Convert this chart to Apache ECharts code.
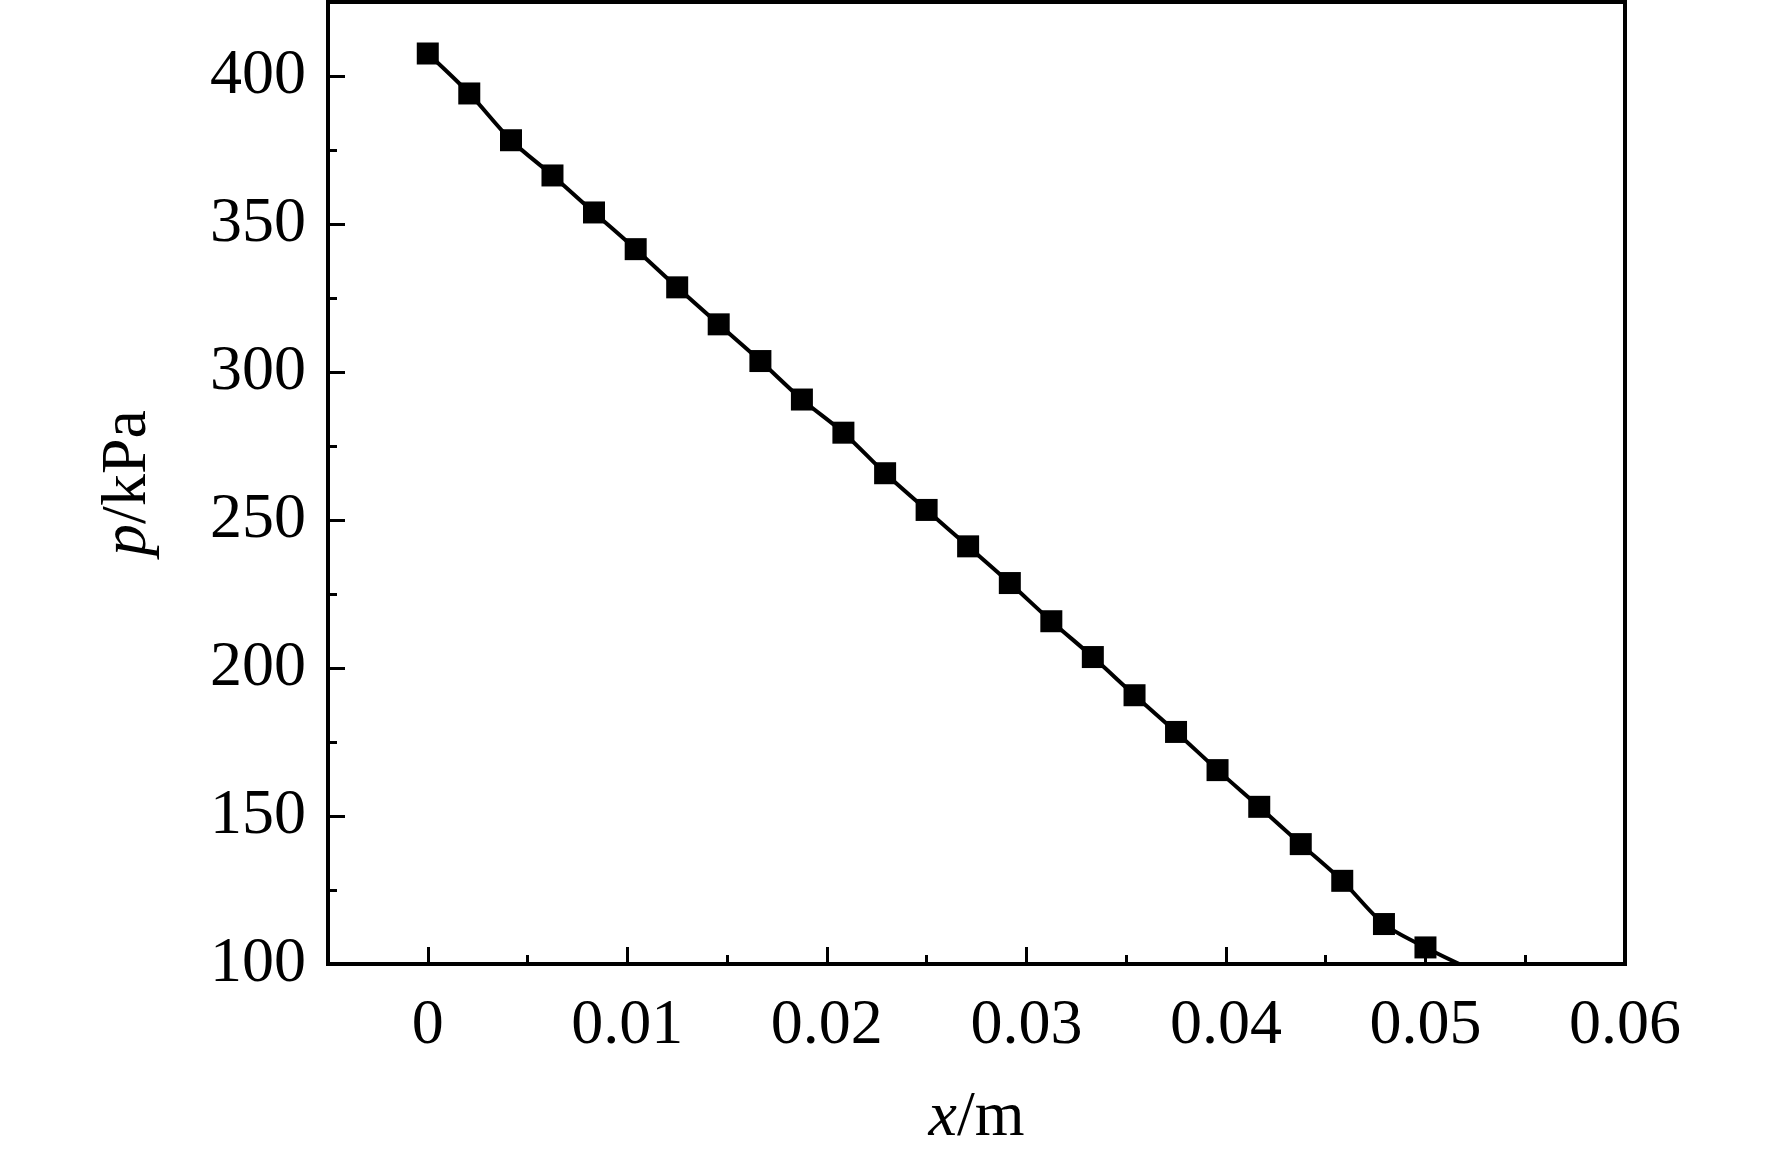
<!DOCTYPE html>
<html>
<head>
<meta charset="utf-8">
<title>p - x</title>
<script src="https://cdn.jsdelivr.net/npm/echarts@6/dist/echarts.min.js"></script>
<style>
  html, body { margin: 0; padding: 0; background: #fff; }
  #main { width: 1772px; height: 1155px; }
</style>
</head>
<body>
<div id="main"></div>
<script>
// 数据: 位置 x/m 与 压力 p/kPa
const xValues = [0, 0.00208, 0.00417, 0.00625, 0.00833, 0.01042, 0.0125, 0.01458, 0.01667,
  0.01875, 0.02083, 0.02292, 0.025, 0.02708, 0.02917, 0.03125, 0.03333, 0.03542, 0.0375,
  0.03958, 0.04167, 0.04375, 0.04583, 0.04792, 0.05]
const pValues = [407.6, 394.1, 378.3, 366.4, 353.9, 341.5, 328.6, 316.1, 303.7, 290.7,
  279.5, 265.8, 253.4, 241.1, 228.7, 215.8, 203.7, 190.8, 178.4, 165.5, 153.1, 140.5,
  128.1, 113.5, 105.6]
// 曲线末端 (没有标记点)
const tailX = [0.0517]
const tailY = [100]
// 刻度
const xMajorTicks = [0, 0.01, 0.02, 0.03, 0.04, 0.05, 0.06]
const xMinorTicks = [0.005, 0.015, 0.025, 0.035, 0.045, 0.055]
const yMajorTicks = [100, 150, 200, 250, 300, 350, 400]
const yMinorTicks = [125, 175, 225, 275, 325, 375]

const font = 'Liberation Serif'
const black = '#000'

const myChart = echarts.init(document.querySelector('#main'))

const points = xValues.map((x, i) => [x, pValues[i]])
const linePoints = points.concat(tailX.map((x, i) => [x, tailY[i]]))

const option = {
  animation: false,
  backgroundColor: '#fff',
  grid: {
    left: 328,
    right: 147,
    top: 2,
    bottom: 191,
    show: true,
    borderColor: black,
    borderWidth: 4
  },
  xAxis: [
    {
      type: 'value',
      min: -0.005,
      max: 0.06,
      position: 'bottom',
      name: '{i|x}/m',
      nameLocation: 'middle',
      nameGap: 122,
      nameTextStyle: {
        fontFamily: font,
        fontSize: 64,
        color: black,
        rich: {
          i: { fontFamily: font, fontSize: 64, fontStyle: 'italic', color: black }
        }
      },
      axisLine: { show: true, onZero: false, lineStyle: { color: black, width: 4 } },
      axisTick: {
        show: true,
        inside: true,
        length: 17,
        lineStyle: { color: black, width: 3 },
        customValues: xMajorTicks
      },
      axisLabel: {
        show: true,
        margin: 30,
        fontFamily: font,
        fontSize: 64,
        color: black,
        customValues: xMajorTicks,
        formatter: v => String(+v.toFixed(3))
      },
      splitLine: { show: false }
    },
    {
      // 次刻度
      type: 'value',
      min: -0.005,
      max: 0.06,
      position: 'bottom',
      axisLine: { show: false, onZero: false },
      axisTick: {
        show: true,
        inside: true,
        length: 9,
        lineStyle: { color: black, width: 3 },
        customValues: xMinorTicks
      },
      axisLabel: { show: false },
      splitLine: { show: false }
    }
  ],
  yAxis: [
    {
      type: 'value',
      min: 100,
      max: 425,
      position: 'left',
      name: '{i|p}/kPa',
      nameLocation: 'middle',
      nameGap: 168,
      nameTextStyle: {
        fontFamily: font,
        fontSize: 64,
        color: black,
        rich: {
          i: { fontFamily: font, fontSize: 64, fontStyle: 'italic', color: black }
        }
      },
      axisLine: { show: true, onZero: false, lineStyle: { color: black, width: 4 } },
      axisTick: {
        show: true,
        inside: true,
        length: 17,
        lineStyle: { color: black, width: 3 },
        customValues: yMajorTicks
      },
      axisLabel: {
        show: true,
        margin: 22,
        fontFamily: font,
        fontSize: 64,
        color: black,
        customValues: yMajorTicks
      },
      splitLine: { show: false }
    },
    {
      // 次刻度
      type: 'value',
      min: 100,
      max: 425,
      position: 'left',
      axisLine: { show: false, onZero: false },
      axisTick: {
        show: true,
        inside: true,
        length: 9,
        lineStyle: { color: black, width: 3 },
        customValues: yMinorTicks
      },
      axisLabel: { show: false },
      splitLine: { show: false }
    }
  ],
  series: [
    {
      type: 'line',
      data: linePoints,
      smooth: 0.3,
      showSymbol: false,
      lineStyle: { color: black, width: 4 },
      z: 2
    },
    {
      type: 'scatter',
      data: points,
      symbol: 'rect',
      symbolSize: 22,
      itemStyle: { color: black, opacity: 1 },
      z: 3
    }
  ]
}

myChart.setOption(option)
</script>
</body>
</html>
